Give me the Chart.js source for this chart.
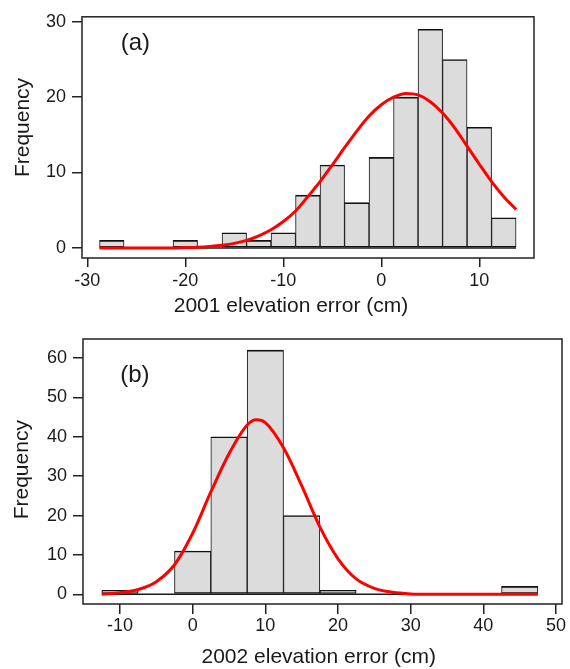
<!DOCTYPE html>
<html>
<head>
<meta charset="utf-8">
<script src="https://cdn.jsdelivr.net/npm/chart.js@4.4.1/dist/chart.umd.min.js"></script>
<style>
  html, body { margin: 0; padding: 0; background: #fff; }
  .panel { position: absolute; left: 0; width: 570px; }
  #wrapA { top: 0; height: 320px; }
  #wrapB { top: 320px; height: 349px; }
</style>
</head>
<body>
<div class="panel" id="wrapA"><canvas id="chartA" width="570" height="320"></canvas></div>
<div class="panel" id="wrapB"><canvas id="chartB" width="570" height="349"></canvas></div>
<script>
// Data -------------------------------

// Panel (a): 2001, bins 2.5 cm wide
var binCentersA = [-27.5, -25, -22.5, -20, -17.5, -15, -12.5, -10, -7.5, -5, -2.5, 0, 2.5, 5, 7.5, 10, 12.5];
var countsA = [1, 0, 0, 1, 0, 2, 1, 2, 7, 11, 6, 12, 20, 29, 25, 16, 4];
var fitXA = [-28.75, -27.5, -26.25, -25, -23.75, -22.5, -21.25, -20, -18.75, -17.5, -16.25, -15, -13.75, -12.5, -11.25, -10, -8.75, -7.5, -6.25, -5, -3.75, -2.5, -1.25, 0, 1.25, 2.5, 3.75, 5, 6.25, 7.5, 8.75, 10, 11.25, 12.5, 13.75];
var fitYA = [0, 0, 0, 0, 0, 0, 0, 0.05, 0.1, 0.2, 0.35, 0.6, 1.0, 1.6, 2.4, 3.5, 4.9, 6.8, 8.8, 11.0, 13.3, 15.5, 17.5, 19.0, 20.0, 20.5, 20.3, 19.4, 17.9, 15.9, 13.5, 11.1, 8.8, 6.8, 5.1];
var xTicksA = [-30, -20, -10, 0, 10];
var yTicksA = [0, 10, 20, 30];

// Panel (b): 2002, bins 5 cm wide
var binCentersB = [-10, -5, 0, 5, 10, 15, 20, 25, 30, 35, 40, 45];
var countsB = [1, 0, 11, 40, 62, 20, 1, 0, 0, 0, 0, 2];
var fitXB = [-12.5, -10, -7.5, -5, -2.5, 0, 2.5, 5, 7.5, 8.75, 10, 12.5, 15, 17.5, 20, 22.5, 25, 27.5, 30, 32.5, 35, 37.5, 40, 42.5, 45, 47.5];
var fitYB = [0, 0.4, 1.2, 3.2, 7.5, 15.5, 26, 35.7, 43, 44.3, 43.6, 37.2, 27.6, 17.1, 9, 3.9, 1.5, 0.5, 0.1, 0, 0, 0, 0, 0, 0, 0];
var xTicksB = [-10, 0, 10, 20, 30, 40, 50];
var yTicksB = [0, 10, 20, 30, 40, 50, 60];

var FONT = "'Liberation Sans', Arial, sans-serif";
var INK = '#1a1a1a';

// Frame, panel letter and axis titles ----------
var decorPlugin = {
    id: 'decor',
    afterDraw: function (chart, args, o) {
        var a = chart.chartArea;
        var ctx = chart.ctx;
        ctx.save();
        ctx.strokeStyle = '#222';
        ctx.lineWidth = 1.5;
        ctx.strokeRect(a.left, a.top, a.right - a.left, a.bottom - a.top);

        ctx.fillStyle = INK;
        ctx.textAlign = 'center';
        ctx.textBaseline = 'middle';

        // panel letter, placed in data units
        ctx.font = '24px ' + FONT;
        ctx.fillText(o.letter,
            chart.scales.x.getPixelForValue(o.letterAt[0]),
            chart.scales.y.getPixelForValue(o.letterAt[1]));

        // axis titles
        ctx.font = '21px ' + FONT;
        ctx.fillText(o.xTitle, o.xTitleAt[0], o.xTitleAt[1]);
        ctx.translate(o.yTitleAt[0], o.yTitleAt[1]);
        ctx.rotate(-Math.PI / 2);
        ctx.fillText('Frequency', 0, 0);
        ctx.restore();
    }
};

function makeHistogram(canvasId, p) {
    var half = (p.centers[1] - p.centers[0]) / 2;
    var bars = p.centers.map(function (c, i) { return { x: c, y: p.counts[i] }; });
    var fit = p.fitX.map(function (x, i) { return { x: x, y: p.fitY[i] }; });
    var baseline = [
        { x: p.centers[0] - half, y: 0 },
        { x: p.centers[p.centers.length - 1] + half, y: 0 }
    ];

    var tickFont = { family: FONT, size: 18 };

    return new Chart(document.getElementById(canvasId).getContext('2d'), {
        type: 'bar',
        data: {
            datasets: [
                {
                    type: 'line',
                    data: fit,
                    borderColor: '#ff0000',
                    borderWidth: 3,
                    pointRadius: 0,
                    fill: false,
                    cubicInterpolationMode: 'monotone',
                    order: 0
                },
                {
                    type: 'line',
                    data: baseline,
                    borderColor: '#1a1a1a',
                    borderWidth: 1.5,
                    pointRadius: 0,
                    fill: false,
                    order: 1
                },
                {
                    type: 'bar',
                    data: bars,
                    backgroundColor: '#dcdcdc',
                    borderColor: '#111',
                    borderWidth: { top: 1.6, bottom: 1.6, left: 1, right: 1 },
                    borderSkipped: false,
                    barPercentage: 1,
                    categoryPercentage: 1,
                    order: 2
                }
            ]
        },
        options: {
            responsive: false,
            animation: false,
            devicePixelRatio: 1,
            layout: { padding: p.padding },
            plugins: {
                legend: { display: false },
                tooltip: { enabled: false },
                decor: p.decor
            },
            scales: {
                x: {
                    type: 'linear',
                    min: p.xRange[0],
                    max: p.xRange[1],
                    offset: false,
                    afterBuildTicks: function (s) { s.ticks = p.xTicks.map(function (v) { return { value: v }; }); },
                    afterFit: function (s) { s.height = p.xAxisHeight; },
                    grid: { drawOnChartArea: false, drawTicks: true, tickLength: p.xTickLen, lineWidth: 1.5, color: '#222', offset: false },
                    border: { display: false },
                    ticks: { font: tickFont, color: INK, padding: p.xTickPad, maxRotation: 0, autoSkip: false }
                },
                y: {
                    min: p.yRange[0],
                    max: p.yRange[1],
                    afterBuildTicks: function (s) { s.ticks = p.yTicks.map(function (v) { return { value: v }; }); },
                    afterFit: function (s) { s.width = p.yAxisWidth; },
                    grid: { drawOnChartArea: false, drawTicks: true, tickLength: 10, lineWidth: 1.5, color: '#222' },
                    border: { display: false },
                    ticks: { font: tickFont, color: INK, padding: 6, autoSkip: false }
                }
            }
        },
        plugins: [decorPlugin]
    });
}

var chartA = makeHistogram('chartA', {
    centers: binCentersA, counts: countsA, fitX: fitXA, fitY: fitYA,
    xTicks: xTicksA, yTicks: yTicksA,
    xRange: [-30.54, 15.58], yRange: [-1.34, 30.66],
    padding: { top: 8, right: 36, left: 0, bottom: 0 },
    yAxisWidth: 82, xAxisHeight: 62, xTickLen: 9, xTickPad: 3,
    decor: {
        letter: '(a)', letterAt: [-25.1, 27.1],
        xTitle: '2001 elevation error (cm)', xTitleAt: [291, 306.5],
        yTitleAt: [23.7, 127.5]
    }
});

var chartB = makeHistogram('chartB', {
    centers: binCentersB, counts: countsB, fitX: fitXB, fitY: fitYB,
    xTicks: xTicksB, yTicks: yTicksB,
    xRange: [-15.09, 50.82], yRange: [-2.47, 64.84],
    padding: { top: 19, right: 8, left: 0, bottom: 0 },
    yAxisWidth: 83, xAxisHeight: 65, xTickLen: 10, xTickPad: 1,
    decor: {
        letter: '(b)', letterAt: [-7.95, 55.5],
        xTitle: '2002 elevation error (cm)', xTitleAt: [318.8, 337],
        yTitleAt: [21.9, 149.7]
    }
});
</script>
</body>
</html>
